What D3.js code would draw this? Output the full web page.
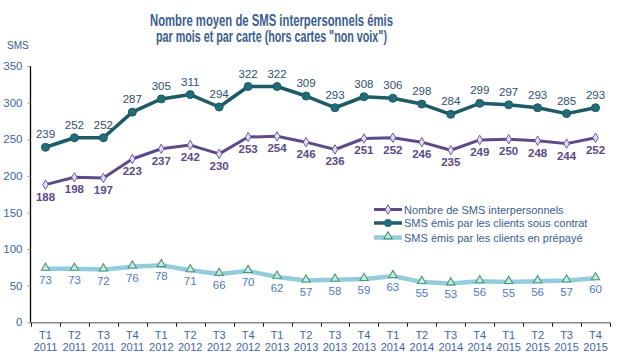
<!DOCTYPE html>
<html><head><meta charset="utf-8">
<script src="https://cdn.jsdelivr.net/npm/d3@7/dist/d3.min.js"></script>
<style>
body{margin:0;background:#fff;}
svg{display:block;font-family:"Liberation Sans",Arial,sans-serif;}
</style></head>
<body><svg id="c" width="622" height="359"></svg>
<script>
const quarters = ["T1","T2","T3","T4","T1","T2","T3","T4","T1","T2","T3","T4","T1","T2","T3","T4","T1","T2","T3","T4"];
const years = ["2011","2011","2011","2011","2012","2012","2012","2012","2013","2013","2013","2013","2014","2014","2014","2014","2015","2015","2015","2015"];
const interpersonnels = [188,198,197,223,237,242,230,253,254,246,236,251,252,246,235,249,250,248,244,252];
const contrat = [239,252,252,287,305,311,294,322,322,309,293,308,306,298,284,299,297,293,285,293];
const prepaye = [73,73,72,76,78,71,66,70,62,57,58,59,63,55,53,56,55,56,57,60];
const yTicks = [0,50,100,150,200,250,300,350];
const seriesNames = ["Nombre de SMS interpersonnels","SMS émis par les clients sous contrat","SMS émis par les clients en prépayé"];

const svg = d3.select("#c");
const cats = quarters.map((q,i)=>i);
const x = d3.scaleBand().domain(cats).range([31,610]);
const y = d3.scaleLinear().domain([0,350]).range([322.3,66]);
const cx = i => x(i)+x.bandwidth()/2;

// title
const title = svg.append("text").attr("text-anchor","middle").attr("fill","#3b5c8f")
  .attr("font-weight","bold").attr("font-size",16);
title.append("tspan").attr("x",271.5).attr("y",25.5).attr("textLength",243).attr("lengthAdjust","spacingAndGlyphs").text("Nombre moyen de SMS interpersonnels émis");
title.append("tspan").attr("x",271.5).attr("y",41.5).attr("textLength",231).attr("lengthAdjust","spacingAndGlyphs").text("par mois et par carte (hors cartes \"non voix\")");

svg.append("text").attr("x",7).attr("y",49).attr("font-size",10).attr("fill","#3b5c8f").text("SMS");

// y axis
const ya = svg.append("g").attr("transform","translate(30.5,0)")
  .call(d3.axisLeft(y).tickValues(yTicks).tickSize(3).tickPadding(5));
ya.select(".domain").attr("stroke","#000").attr("stroke-width",1.3).attr("d","M0,"+y(350)+"V"+y(0));
ya.selectAll(".tick line").attr("stroke","#999");
ya.selectAll(".tick text").attr("fill","#3f63a6").attr("font-size",11.5).attr("font-family","'Liberation Sans',Arial,sans-serif");

// x axis
const xa = svg.append("g").attr("transform","translate(0,"+(y(0)+0.5)+")");
xa.append("line").attr("x1",30).attr("x2",610).attr("stroke","#888").attr("stroke-width",1.5);
const bounds = d3.range(21).map(i=> i<20 ? x(i) : x(19)+x.bandwidth());
xa.selectAll("line.t").data(bounds).join("line").attr("class","t")
  .attr("x1",d=>Math.round(d)+0.5).attr("x2",d=>Math.round(d)+0.5).attr("y1",0).attr("y2",4).attr("stroke","#222");
const xl = xa.selectAll("text.q").data(cats).join("text").attr("class","q")
  .attr("text-anchor","middle").attr("font-size",11).attr("fill","#3f63a6");
xl.append("tspan").attr("x",cx).attr("y",16).text(i=>quarters[i]);
xl.append("tspan").attr("x",cx).attr("y",28).text(i=>years[i]);

const line = d3.line().x((d,i)=>cx(i)).y(d=>y(d));

// prepaid
svg.append("path").datum(prepaye).attr("d",line).attr("fill","none").attr("stroke","#93cddd").attr("stroke-width",4.5).attr("stroke-linejoin","round");
const tri = d3.symbol().type(d3.symbolTriangle).size(30);
svg.selectAll("path.tp").data(prepaye).join("path").attr("class","tp").attr("d",tri)
  .attr("transform",(d,i)=>`translate(${cx(i)},${y(d)-1})`).attr("fill","#c8e6ee").attr("stroke","#4a9a6a").attr("stroke-width",1.1);
svg.selectAll("text.lp").data(prepaye).join("text").attr("class","lp")
  .attr("x",(d,i)=>cx(i)).attr("y",d=>y(d)+15).attr("text-anchor","middle").attr("font-size",11.5).attr("fill","#4f79bf").text(d=>d);

// interpersonal
svg.append("path").datum(interpersonnels).attr("d",line).attr("fill","none").attr("stroke","#5d4b88").attr("stroke-width",3).attr("stroke-linejoin","round");
const dia = d3.symbol().type(d3.symbolDiamond).size(26);
svg.selectAll("path.dp").data(interpersonnels).join("path").attr("class","dp").attr("d",dia)
  .attr("transform",(d,i)=>`translate(${cx(i)},${y(d)})`).attr("fill","#e4e0f4").attr("stroke","#6a5aa8").attr("stroke-width",1);
svg.selectAll("text.li").data(interpersonnels).join("text").attr("class","li")
  .attr("x",(d,i)=>cx(i)).attr("y",d=>y(d)+16).attr("text-anchor","middle").attr("font-size",11.5).attr("font-weight","bold").attr("fill","#5a4a86").text(d=>d);

// contract
svg.append("path").datum(contrat).attr("d",line).attr("fill","none").attr("stroke","#1d5b66").attr("stroke-width",3.5).attr("stroke-linejoin","round");
svg.selectAll("circle.cp").data(contrat).join("circle").attr("class","cp")
  .attr("cx",(d,i)=>cx(i)).attr("cy",d=>y(d)).attr("r",4).attr("fill","#236b78").attr("stroke","#1d5b66");
svg.selectAll("text.lc").data(contrat).join("text").attr("class","lc")
  .attr("x",(d,i)=>cx(i)).attr("y",d=>y(d)-9).attr("text-anchor","middle").attr("font-size",11.5).attr("fill","#2e4f6e").text(d=>d);

// legend
const leg = svg.append("g");
const legRows = [
  {n:seriesNames[0], c:"#5d4b88", w:3, m:"dia"},
  {n:seriesNames[1], c:"#1d5b66", w:3.5, m:"circ"},
  {n:seriesNames[2], c:"#93cddd", w:4.5, m:"tri"}
];
legRows.forEach((r,k)=>{
  const yy = [209.5,223,237.5][k];
  leg.append("line").attr("x1",374).attr("x2",402).attr("y1",yy).attr("y2",yy).attr("stroke",r.c).attr("stroke-width",r.w);
  if(r.m==="dia") leg.append("path").attr("d",dia).attr("transform",`translate(388,${yy})`).attr("fill","#e4e0f4").attr("stroke","#6a5aa8");
  if(r.m==="circ") leg.append("circle").attr("cx",388).attr("cy",yy).attr("r",4).attr("fill","#236b78");
  if(r.m==="tri") leg.append("path").attr("d",tri).attr("transform",`translate(388,${yy-1})`).attr("fill","#c8e6ee").attr("stroke","#4a9a6a").attr("stroke-width",1.1);
  leg.append("text").attr("x",404).attr("y",yy+4).attr("font-size",11).attr("fill","#3b5c8f").text(r.n);
});
</script></body></html>
